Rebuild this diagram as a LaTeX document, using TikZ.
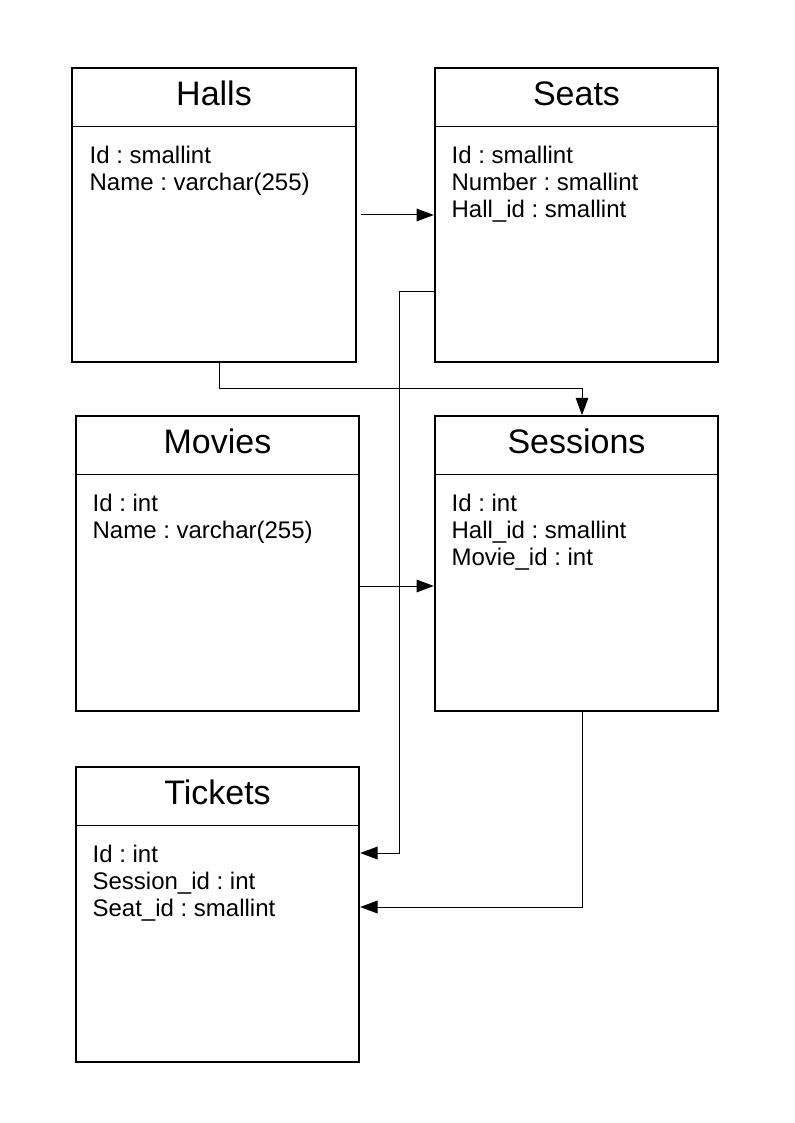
\documentclass[tikz,border=0pt]{standalone}
\usepackage{fontspec}
\setmainfont{Liberation Sans}
\usetikzlibrary{arrows.meta,positioning,calc}
\frenchspacing

\begin{document}
\begin{tikzpicture}[
  x=0.75pt, y=-0.75pt, >={Triangle[length=13pt,width=9.5pt]},
  tbl/.style={draw, line width=1.5pt, minimum width=212.5pt, minimum height=221pt},
  hdr/.style={anchor=base, font=\fontsize{25.5}{30}\selectfont},
  fld/.style={anchor=north west, inner sep=0pt, align=left, font=\fontsize{18}{20.25}\selectfont},
  sep/.style={line width=0.75pt},
  lnk/.style={->, line width=0.75pt}
]
\useasboundingbox (0,0) rectangle (794,1123);

% Halls
\node[tbl] (halls) at (214,215) {};
\draw[sep] ($(halls.north west)+(0,59.5)$) -- ($(halls.north east)+(0,59.5)$);
\node[hdr] (hallsT) at ($(halls.north)+(0,38.5)$) {Halls};
\node[fld] (hallsF) at ($(halls.north west)+(18,79)$) {Id : smallint\\Name : varchar(255)};

% Seats
\node[tbl] (seats) at (576.5,215) {};
\draw[sep] ($(seats.north west)+(0,59.5)$) -- ($(seats.north east)+(0,59.5)$);
\node[hdr] (seatsT) at ($(seats.north)+(0,38.5)$) {Seats};
\node[fld] (seatsF) at ($(seats.north west)+(17.5,79)$)
  {Id : smallint\\Number : smallint\\Hall\_id : smallint};

% Movies
\node[tbl] (movies) at (217.5,563.5) {};
\draw[sep] ($(movies.north west)+(0,59.5)$) -- ($(movies.north east)+(0,59.5)$);
\node[hdr] (moviesT) at ($(movies.north)+(0,38.5)$) {Movies};
\node[fld] (moviesF) at ($(movies.north west)+(17.5,79)$) {Id : int\\Name : varchar(255)};

% Sessions
\node[tbl] (sessions) at (576.5,563.5) {};
\draw[sep] ($(sessions.north west)+(0,59.5)$) -- ($(sessions.north east)+(0,59.5)$);
\node[hdr] (sessionsT) at ($(sessions.north)+(0,38.5)$) {Sessions};
\node[fld] (sessionsF) at ($(sessions.north west)+(17.5,79)$)
  {Id : int\\Hall\_id : smallint\\Movie\_id : int};

% Tickets
\node[tbl] (tickets) at (217.5,914.5) {};
\draw[sep] ($(tickets.north west)+(0,59.5)$) -- ($(tickets.north east)+(0,59.5)$);
\node[hdr] (ticketsT) at ($(tickets.north)+(0,38.5)$) {Tickets};
\node[fld] (ticketsF) at ($(tickets.north west)+(17.5,79)$)
  {Id : int\\Session\_id : int\\Seat\_id : smallint};

% links
\draw[lnk] ($(halls.east)+(4,0)$) -- (seats.west);
\draw[lnk] ($(halls.south)+(5,0)$) |- ($(sessions.north)+(5.5,-27)$)
  -- ($(sessions.north)+(5.5,0)$);
\draw[lnk] ($(movies.east)+(0,22.5)$) -- ($(sessions.west)+(0,22.5)$);
\draw[lnk] ($(seats.west)+(0,76)$) -- ++(-34,0) |- ($(tickets.east)+(0,-61.5)$);
\draw[lnk] ($(sessions.south)+(5.5,0)$) |- ($(tickets.east)+(0,-7.5)$);
\end{tikzpicture}
\end{document}
